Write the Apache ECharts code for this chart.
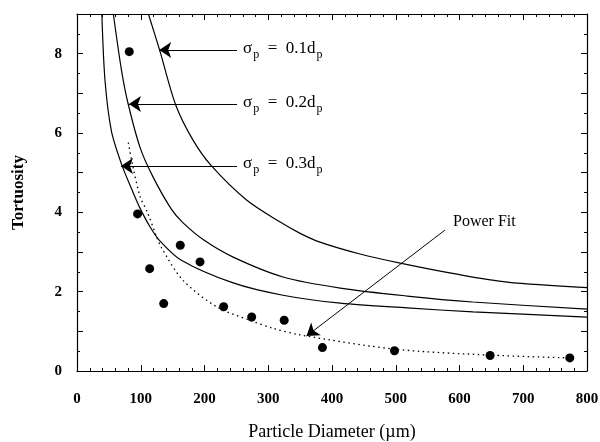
<!DOCTYPE html>
<html>
<head>
<meta charset="utf-8">
<script src="https://cdn.jsdelivr.net/npm/echarts@6/dist/echarts.min.js"></script>
<style>html,body{margin:0;padding:0;background:#fff;}#c{width:600px;height:442px;}</style>
</head>
<body>
<div id="c"></div>
<script>
// Curves: [diameter (µm), tortuosity]
const sigma01 = [[112,9.0],[130,8.07],[155,6.7],[182,5.82],[211,5.17],[266,4.31],[318,3.76],[350,3.47],[381,3.25],[444,2.95],[507,2.72],[596,2.44],[675,2.24],[800,2.10]];
const sigma02 = [[57,9.0],[70,7.56],[80,6.75],[99,5.63],[119,4.9],[148,4.08],[166,3.74],[199,3.3],[245,2.87],[323,2.37],[413,2.09],[518,1.89],[621,1.74],[800,1.56]];
const sigma03 = [[39,9.0],[44,7.31],[54,6.05],[70,5.21],[88,4.5],[99,4.1],[114,3.65],[129,3.3],[163,2.80],[245,2.22],[323,1.91],[413,1.71],[518,1.59],[621,1.49],[800,1.36]];
const powerFit = [[80.5,5.76],[88,5.13],[99,4.4],[111,3.98],[125,3.38],[132,3.12],[166,2.29],[220,1.61],[271,1.28],[307,1.08],[350,0.91],[499,0.55],[649,0.40],[773,0.33]];
const measured = [[82,8.05],[95,3.96],[114,2.58],[136,1.70],[162,3.17],[193,2.75],[230,1.62],[274,1.36],[325,1.28],[385,0.59],[498,0.51],[648,0.39],[773,0.33]];
// Annotation arrows: [from, to] in data units
const arrows = [
  [[251,8.09],[129,8.09]],
  [[251,6.73],[81.5,6.73]],
  [[251,5.17],[69,5.17]],
  [[577,3.55],[360,0.88]]
];
const labels01 = '{a|σ}{b|p}{a|  =  0.1d}{b|p}';
const labels02 = '{a|σ}{b|p}{a|  =  0.2d}{b|p}';
const labels03 = '{a|σ}{b|p}{a|  =  0.3d}{b|p}';
const fitLabel = 'Power Fit';

const FONT = 'Liberation Serif';
const chart = echarts.init(document.getElementById('c'), null, {renderer:'canvas'});
const lineStyle = {color:'#000', width:1.2};
const axisCommon = {
  type:'value',
  axisLine:{show:true, onZero:false, lineStyle:{color:'#000', width:1.2}},
  splitLine:{show:false},
  axisTick:{show:true, inside:true, length:6, lineStyle:{color:'#000', width:1}},
  minorTick:{show:true, length:3, lineStyle:{color:'#000', width:1}},
};
const rich = {
  a:{fontSize:17, fontFamily:FONT, color:'#000', verticalAlign:'top', lineHeight:20},
  b:{fontSize:12, fontFamily:FONT, color:'#000', verticalAlign:'top', lineHeight:20, padding:[9,0,0,1]}
};
const option = {
  animation:false,
  backgroundColor:'#fff',
  grid:{left:77, right:13, top:14, bottom:71, containLabel:false, outerBoundsMode:'none'},
  xAxis:[
    Object.assign({}, axisCommon, {
      position:'bottom', min:0, max:800, interval:100,
      minorTick:Object.assign({}, axisCommon.minorTick, {splitNumber:5}),
      axisLabel:{margin:21, fontSize:15, fontWeight:'bold', color:'#000', fontFamily:FONT},
      name:'Particle Diameter (µm)', nameLocation:'middle', nameGap:52,
      nameTextStyle:{fontSize:18, color:'#000', fontFamily:FONT}
    }),
    Object.assign({}, axisCommon, {
      position:'top', min:0, max:800, interval:100,
      minorTick:Object.assign({}, axisCommon.minorTick, {splitNumber:5}),
      axisLabel:{show:false}
    })
  ],
  yAxis:[
    Object.assign({}, axisCommon, {
      position:'left', min:0, max:9, interval:1,
      minorTick:Object.assign({}, axisCommon.minorTick, {splitNumber:2}),
      axisLabel:{margin:15, fontSize:15, fontWeight:'bold', color:'#000', fontFamily:FONT,
        formatter:function(v){return (v % 2 === 0) ? String(v) : '';}},
      name:'Tortuosity', nameLocation:'middle', nameGap:50, nameRotate:90,
      nameTextStyle:{fontSize:17, fontWeight:'bold', color:'#000', fontFamily:FONT}
    }),
    Object.assign({}, axisCommon, {
      position:'right', min:0, max:9, interval:1,
      minorTick:Object.assign({}, axisCommon.minorTick, {splitNumber:2}),
      axisLabel:{show:false}
    })
  ],
  series:[
    {name:'σp = 0.1dp', type:'line', data:sigma01, smooth:0.3, showSymbol:false, lineStyle:lineStyle, silent:true},
    {name:'σp = 0.2dp', type:'line', data:sigma02, smooth:0.3, showSymbol:false, lineStyle:lineStyle, silent:true},
    {name:'σp = 0.3dp', type:'line', data:sigma03, smooth:0.3, showSymbol:false, lineStyle:lineStyle, silent:true},
    {name:'Power Fit', type:'line', data:powerFit, smooth:0.3, showSymbol:false,
      lineStyle:{color:'#000', width:1.3, type:[1.5,3.5]}, silent:true},
    {name:'Measured', type:'scatter', data:measured, symbol:'circle', symbolSize:9,
      itemStyle:{color:'#000', opacity:1}, silent:true,
      markLine:{
        silent:true, symbol:['none','arrow'], symbolSize:12,
        label:{show:false},
        lineStyle:{color:'#000', width:1, type:'solid', opacity:1},
        data: arrows.map(function(a){return [{coord:a[0]},{coord:a[1]}];})
      }
    }
  ],
  graphic:[
    {type:'text', left:243, top:40, style:{text:labels01, rich:rich}},
    {type:'text', left:243, top:94, style:{text:labels02, rich:rich}},
    {type:'text', left:243, top:155, style:{text:labels03, rich:rich}},
    {type:'text', left:453, top:214, style:{text:fitLabel, fontSize:16, fontFamily:FONT, fill:'#000'}}
  ]
};
chart.setOption(option);
</script>
</body>
</html>
